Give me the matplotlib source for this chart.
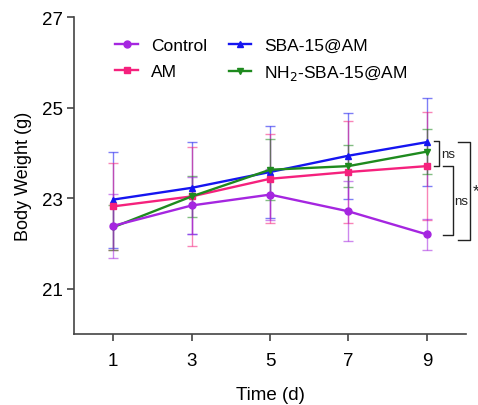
import matplotlib
matplotlib.use("Agg")
import matplotlib.pyplot as plt

plt.rcParams['font.family'] = ['Liberation Sans', 'DejaVu Sans']

days = [1, 3, 5, 7, 9]

control = [22.39, 22.84, 23.08, 22.71, 22.20]
control_err = [0.71, 0.62, 0.56, 0.66, 0.35]
am = [22.82, 23.04, 23.43, 23.58, 23.71]
am_err = [0.96, 1.10, 0.98, 1.12, 1.20]
sba = [22.97, 23.23, 23.58, 23.94, 24.24]
sba_err = [1.06, 1.02, 1.02, 0.95, 0.98]
nh2 = [22.36, 23.04, 23.63, 23.71, 24.03]
nh2_err = [0.50, 0.46, 0.67, 0.46, 0.50]

labels = ['Control', 'AM', 'SBA-15@AM', r'NH$_2$-SBA-15@AM']
colors = ['#A526E0', '#F5217D', '#1515F0', '#1E8A1E']
markers = ['o', 's', '^', 'v']

fig = plt.figure(figsize=(4.78, 4.06), dpi=100)
ax = fig.add_axes([0.155, 0.175, 0.82, 0.78])

series = [(control, control_err), (am, am_err), (sba, sba_err), (nh2, nh2_err)]
order = [2, 1, 3, 0]
for i in order:
    vals, errs = series[i]
    ax.errorbar(days, vals, yerr=errs, fmt='none', ecolor=colors[i],
                elinewidth=1.0, capsize=3.5, capthick=1.0, alpha=0.55, zorder=2)
handles = {}
for i in order:
    vals, errs = series[i]
    h, = ax.plot(days, vals, color=colors[i], marker=markers[i], markersize=5,
                 linewidth=1.7, zorder=3, label=labels[i])
    handles[i] = h

ax.legend([handles[i] for i in range(4)], labels, ncol=2, frameon=False,
          loc='upper left', bbox_to_anchor=(0.105, 0.935), fontsize=12.5,
          handlelength=1.3, handletextpad=0.75, columnspacing=1.25,
          labelspacing=0.6, borderaxespad=0, borderpad=0)

# significance brackets at day 9
bk = dict(color='#222222', linewidth=1.0, clip_on=False)


def bracket(x0, x1, y_top, y_bot, text, tx, size):
    ax.plot([x0, x1, x1, x0], [y_top, y_top, y_bot, y_bot], **bk)
    ax.text(tx, (y_top + y_bot) / 2, text, fontsize=size, ha='left',
            va='center', color='#222222', clip_on=False)


bracket(9.19, 9.32, sba[-1] + 0.02, am[-1], 'ns', 9.36, 9.5)
bracket(9.42, 9.66, am[-1], control[-1] - 0.02, 'ns', 9.69, 9.5)
bracket(9.80, 10.10, sba[-1], control[-1] - 0.12, '*', 10.16, 12)

ax.set_xlim(0, 10)
ax.set_ylim(20, 27)
ax.set_xticks(days)
ax.set_yticks([21, 23, 25, 27])
ax.spines['top'].set_visible(False)
ax.spines['right'].set_visible(False)
for s in ['left', 'bottom']:
    ax.spines[s].set_color('#444444')
    ax.spines[s].set_linewidth(1.2)
ax.tick_params(axis='both', colors='#444444', labelcolor='black',
               labelsize=13.5, length=5, width=1.2, pad=3)
ax.tick_params(axis='x', pad=8)
ax.set_xlabel('Time (d)', fontsize=13.5, labelpad=12)
ax.set_ylabel('Body Weight (g)', fontsize=13, labelpad=7)

fig.savefig('out.png', dpi=100)
